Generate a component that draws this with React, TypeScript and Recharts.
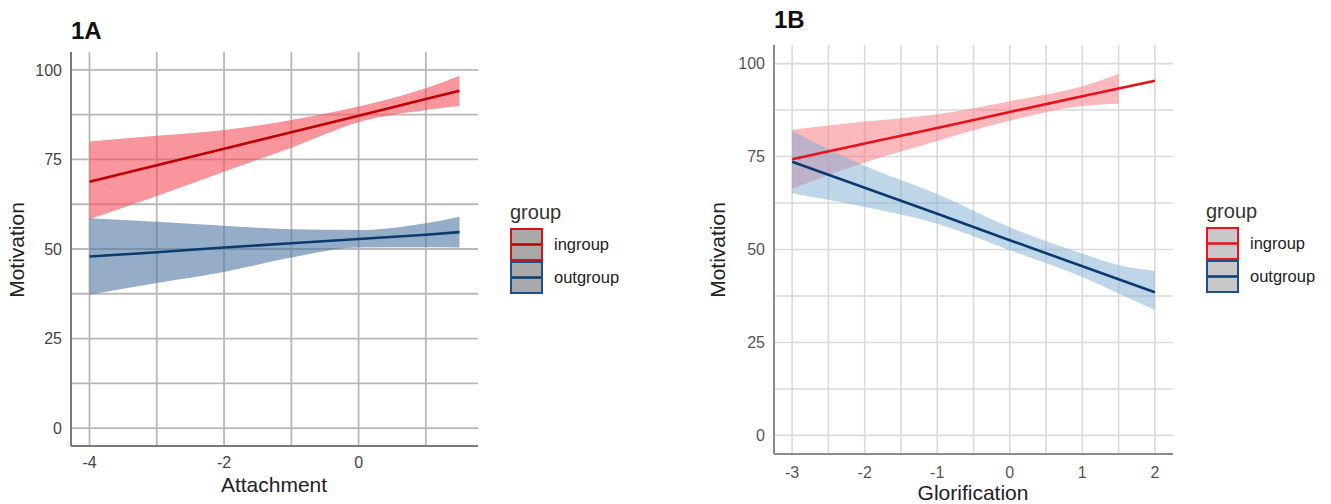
import React from "react";
import {
  ComposedChart,
  Area,
  Line,
  XAxis,
  YAxis,
  CartesianGrid,
} from "recharts";

// Panel 1A: Attachment
const attachX = [-4, -3, -2, -1, 0, 1, 1.5];
const attachInFit = [68.8, 73.4, 78.0, 82.6, 87.2, 91.9, 94.2];
const attachInLow = [58.3, 64.8, 71.6, 78.3, 85.4, 88.8, 89.9];
const attachInHigh = [80.0, 81.6, 83.2, 86.0, 89.8, 94.9, 98.4];
const attachOutFit = [47.9, 49.1, 50.4, 51.6, 52.8, 54.0, 54.7];
const attachOutLow = [37.2, 40.5, 43.6, 47.6, 50.4, 50.5, 50.4];
const attachOutHigh = [58.6, 57.6, 56.5, 55.5, 55.3, 57.2, 59.0];

// Panel 1B: Glorification
const gloriX = [-3, -2, -1, 0, 1, 1.5, 2];
const gloriInFit = [74.3, 78.5, 82.7, 87.0, 91.2, 93.3, 95.4];
const gloriInLow = [66.3, 73.4, 79.2, 84.6, 88.6, 89.2, null];
const gloriInHigh = [82.2, 84.4, 86.4, 89.9, 93.9, 97.2, null];
const gloriOutFit = [73.6, 66.6, 59.6, 52.5, 45.5, 42.0, 38.5];
const gloriOutLow = [65.1, 61.4, 56.9, 49.8, 42.6, 38.2, 33.7];
const gloriOutHigh = [81.9, 72.5, 64.9, 56.0, 48.9, 45.8, 44.2];

const yTicks = [0, 12.5, 25, 37.5, 50, 62.5, 75, 87.5, 100];
const attachTicks = [-4, -3, -2, -1, 0, 1];
const attachLabels = [-4, -2, 0];
const gloriTicks = [-3, -2.5, -2, -1.5, -1, -0.5, 0, 0.5, 1, 1.5, 2];
const gloriLabels = [-3, -2, -1, 0, 1, 2];
const groups = ["ingroup", "outgroup"];

const FONT = "'Liberation Sans', Arial, Helvetica, sans-serif";

type Row = {
  x: number;
  inFit: number;
  inLow: number | null;
  inHigh: number | null;
  outFit: number;
  outLow: number;
  outHigh: number;
};

function buildRows(
  xs: number[],
  inFit: number[],
  inLow: (number | null)[],
  inHigh: (number | null)[],
  outFit: number[],
  outLow: number[],
  outHigh: number[]
): Row[] {
  return xs.map((x, i) => ({
    x,
    inFit: inFit[i],
    inLow: inLow[i],
    inHigh: inHigh[i],
    outFit: outFit[i],
    outLow: outLow[i],
    outHigh: outHigh[i],
  }));
}

const attachRows = buildRows(
  attachX,
  attachInFit,
  attachInLow,
  attachInHigh,
  attachOutFit,
  attachOutLow,
  attachOutHigh
);
const gloriRows = buildRows(
  gloriX,
  gloriInFit,
  gloriInLow,
  gloriInHigh,
  gloriOutFit,
  gloriOutLow,
  gloriOutHigh
);

const inBand = (d: Row) => (d.inLow == null || d.inHigh == null ? null : [d.inLow, d.inHigh]);
const outBand = (d: Row) => [d.outLow, d.outHigh];

interface PanelStyle {
  grid: string;
  gridWidth: number;
  axis: string;
  tickColor: string;
  inFill: string;
  inLine: string;
  outFill: string;
  outLine: string;
  bandOpacity: number;
  keyFill: string;
  keyIn: string;
  keyOut: string;
}

const styleA: PanelStyle = {
  grid: "#b8b8b8",
  gridWidth: 1.8,
  axis: "#7a7a7a",
  tickColor: "#444444",
  inFill: "#f54e5a",
  inLine: "#c00000",
  outFill: "#4f77a0",
  outLine: "#0b3a6e",
  bandOpacity: 0.6,
  keyFill: "#a9a9a9",
  keyIn: "#d0141e",
  keyOut: "#1d4f8a",
};

const styleB: PanelStyle = {
  grid: "#dadada",
  gridWidth: 1.6,
  axis: "#8c8c8c",
  tickColor: "#555555",
  inFill: "#f7727c",
  inLine: "#e8101a",
  outFill: "#7faed3",
  outLine: "#0b3a70",
  bandOpacity: 0.5,
  keyFill: "#c8c8c8",
  keyIn: "#e8141e",
  keyOut: "#1d4f8a",
};

function LegendBlock({ left, top, s }: { left: number; top: number; s: PanelStyle }) {
  const colors = [
    { border: s.keyIn, line: s.inLine },
    { border: s.keyOut, line: s.outLine },
  ];
  return (
    <div style={{ position: "absolute", left, top, fontFamily: FONT }}>
      <div style={{ fontSize: 20, color: "#333", lineHeight: "22px", marginBottom: 5 }}>group</div>
      {groups.map((g, i) => (
        <div key={g} style={{ display: "flex", alignItems: "center", height: 33 }}>
          <svg width={34} height={33} style={{ display: "block" }}>
            <rect x={1} y={1} width={31} height={31} fill={s.keyFill} stroke={colors[i].border} strokeWidth={2} />
            <line x1={2} x2={31} y1={16.5} y2={16.5} stroke={colors[i].line} strokeWidth={2.5} />
          </svg>
          <span style={{ fontSize: 16.5, color: "#222", marginLeft: 10 }}>{g}</span>
        </div>
      ))}
    </div>
  );
}

function Panel({
  rows,
  s,
  left,
  width,
  top,
  bottom,
  yAxisWidth,
  domain,
  ticks,
  labels,
  xTickMargin,
}: {
  rows: Row[];
  s: PanelStyle;
  left: number;
  width: number;
  top: number;
  bottom: number;
  yAxisWidth: number;
  domain: [number, number];
  ticks: number[];
  labels: number[];
  xTickMargin: number;
}) {
  const tick = { fontSize: 16, fill: s.tickColor, fontFamily: FONT };
  return (
    <div style={{ position: "absolute", left, top: 0 }}>
      <ComposedChart width={width} height={504} data={rows} margin={{ top, right: 12, bottom, left: 0 }}>
        <CartesianGrid stroke={s.grid} strokeWidth={s.gridWidth} syncWithTicks />
        <XAxis
          type="number"
          dataKey="x"
          domain={domain}
          ticks={ticks}
          allowDataOverflow
          height={30}
          tickLine={false}
          tickMargin={xTickMargin}
          tick={tick}
          axisLine={{ stroke: s.axis, strokeWidth: 2 }}
          tickFormatter={(v: number) => (labels.includes(v) ? String(v) : "")}
        />
        <YAxis
          type="number"
          domain={[-5, 105]}
          ticks={yTicks}
          allowDataOverflow
          width={yAxisWidth}
          tickLine={false}
          tickMargin={3}
          tick={tick}
          axisLine={{ stroke: s.axis, strokeWidth: 2 }}
          tickFormatter={(v: number) => (v % 25 === 0 ? String(v) : "")}
        />
        <Area
          dataKey={inBand}
          stroke="none"
          fill={s.inFill}
          fillOpacity={s.bandOpacity}
          type="monotone"
          isAnimationActive={false}
          activeDot={false}
        />
        <Area
          dataKey={outBand}
          stroke="none"
          fill={s.outFill}
          fillOpacity={s.bandOpacity}
          type="monotone"
          isAnimationActive={false}
          activeDot={false}
        />
        <Line dataKey="inFit" stroke={s.inLine} strokeWidth={2.6} dot={false} type="linear" isAnimationActive={false} />
        <Line dataKey="outFit" stroke={s.outLine} strokeWidth={2.6} dot={false} type="linear" isAnimationActive={false} />
      </ComposedChart>
    </div>
  );
}

const titleStyle: React.CSSProperties = {
  position: "absolute",
  fontFamily: FONT,
  fontWeight: "bold",
  fontSize: 24,
  color: "#111",
  lineHeight: "24px",
};

const axisTitle: React.CSSProperties = {
  position: "absolute",
  fontFamily: FONT,
  fontSize: 21,
  color: "#222",
  lineHeight: "24px",
  whiteSpace: "nowrap",
};

export default function App() {
  return (
    <div
      style={{
        position: "absolute",
        left: 0,
        top: 0,
        width: 1331,
        height: 504,
        background: "#fff",
        overflow: "hidden",
      }}
    >
      <Panel
        rows={attachRows}
        s={styleA}
        left={0}
        width={490}
        top={52}
        bottom={28}
        yAxisWidth={71}
        domain={[-4.275, 1.775]}
        ticks={attachTicks}
        labels={attachLabels}
        xTickMargin={5}
      />
      <Panel
        rows={gloriRows}
        s={styleB}
        left={680}
        width={505}
        top={45}
        bottom={20}
        yAxisWidth={94}
        domain={[-3.25, 2.25]}
        ticks={gloriTicks}
        labels={gloriLabels}
        xTickMargin={7}
      />

      <div style={{ ...titleStyle, left: 71, top: 19 }}>1A</div>
      <div style={{ ...titleStyle, left: 774, top: 8 }}>1B</div>

      <div style={{ ...axisTitle, left: 17, top: 250, transform: "translate(-50%, -50%) rotate(-90deg)" }}>
        Motivation
      </div>
      <div style={{ ...axisTitle, left: 718, top: 250, transform: "translate(-50%, -50%) rotate(-90deg)" }}>
        Motivation
      </div>
      <div style={{ ...axisTitle, left: 274, top: 485, transform: "translate(-50%, -50%)" }}>Attachment</div>
      <div style={{ ...axisTitle, left: 973, top: 493, transform: "translate(-50%, -50%)" }}>Glorification</div>

      <LegendBlock left={510} top={201} s={styleA} />
      <LegendBlock left={1206} top={200} s={styleB} />
    </div>
  );
}
